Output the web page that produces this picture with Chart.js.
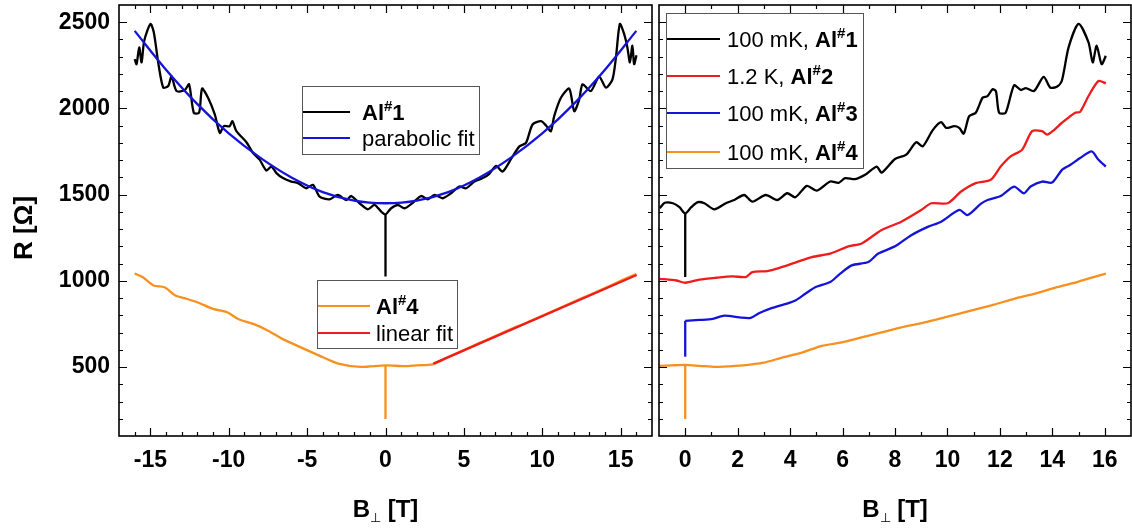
<!DOCTYPE html>
<html>
<head>
<meta charset="utf-8">
<title>R vs B</title>
<script src="https://cdn.jsdelivr.net/npm/chart.js@4.4.1/dist/chart.umd.min.js"></script>
<style>
  body { margin: 0; background: #fff; }
  #wrap { position: relative; width: 1132px; height: 529px; }
  #wrap canvas { position: absolute; left: 0; top: 0; }
</style>
</head>
<body>
<div id="wrap">
  <canvas id="leftChart" width="1132" height="529"></canvas>
  <canvas id="rightChart" width="1132" height="529"></canvas>
</div>
<script>
// ---- left panel: symmetric field sweep ----
var al1B = [-16.0,-15.88,-15.71,-15.56,-15.39,-14.99,-14.78,-14.5,-14.18,-13.86,-13.65,-13.33,-12.8,-12.53,-12.23,-11.89,-11.7,-11.32,-10.89,-10.57,-10.32,-9.94,-9.77,-9.51,-8.87,-8.45,-8.03,-7.6,-7.28,-6.96,-6.54,-6.01,-5.58,-5.05,-4.63,-4.2,-3.57,-3.04,-2.5,-2.18,-1.66,-1.13,-0.7,-0.27,0,0.36,0.79,1.21,1.74,2.27,2.7,3.12,3.65,4.18,4.71,5.14,5.67,6.2,6.62,7.05,7.47,8.01,8.54,8.96,9.38,9.92,10.24,10.55,10.76,11.19,11.72,12.04,12.36,12.57,13.1,13.63,14.06,14.48,14.7,14.95,15.22,15.43,15.59,15.75,15.86,16.01];
var al1R = [2286,2257,2354,2267,2393,2490,2442,2267,2121,2130,2185,2101,2107,2140,1975,1975,2115,2062,1965,1858,1897,1897,1926,1868,1804,1741,1703,1640,1663,1625,1596,1576,1567,1537,1557,1488,1473,1498,1469,1492,1450,1415,1440,1401,1385,1421,1440,1421,1453,1492,1473,1498,1479,1508,1547,1537,1576,1596,1621,1667,1634,1707,1780,1800,1907,1926,1901,1868,1955,2062,2115,1984,2053,2140,2101,2185,2121,2169,2296,2490,2432,2354,2267,2364,2257,2309];

var paraB = [-16,-14,-12,-10,-8,-6,-4,-2,0,2,4,6,8,10,12,14,16];
var paraR = [2450,2225,2025,1855,1715,1600,1515,1465,1450,1465,1515,1600,1715,1855,2025,2225,2450];

var al4B = [-16.0,-15.5,-14.8,-14.1,-13.4,-12.7,-12.0,-11.0,-10.1,-9.4,-8.43,-7.49,-6.55,-5.37,-4.19,-3.01,-1.6,0,1.22,2.0,3.0,4,5,6,7,8,9,10,11,12,13,14,15,16];
var al4R = [1042,1022,973,963,915,896,876,837,818,779,750,711,662,613,565,520,501,510,505,510,516,558,598,640,680,720,757,797,838,878,918,958,1000,1040];

var linB = [3.06, 16.02];
var linR = [520, 1034];

// ---- right panel: positive field, four samples ----
var r1B = [-0.97,-0.78,-0.47,-0.22,0,0.23,0.48,0.73,1.11,1.55,1.87,2.25,2.56,3.07,3.51,3.89,4.2,4.64,5.02,5.53,5.85,6.1,6.48,6.86,7.3,7.49,8.0,8.43,8.81,9.06,9.44,9.76,9.95,10.26,10.45,10.62,10.83,11.08,11.34,11.53,11.72,11.85,11.97,12.22,12.54,12.8,12.99,13.3,13.67,13.92,14.17,14.36,14.62,15.0,15.38,15.54,15.69,15.88,16.04];
var r1R = [1421,1453,1450,1427,1391,1427,1456,1450,1415,1450,1469,1498,1459,1498,1469,1508,1485,1551,1523,1576,1568,1596,1590,1615,1663,1628,1707,1732,1804,1780,1874,1920,1887,1897,1887,1854,1955,1975,2062,2072,2111,2099,1975,1975,2134,2107,2118,2101,2183,2121,2126,2159,2354,2490,2383,2267,2364,2257,2305];

var r2B = [-0.97,-0.34,0.01,0.54,1.17,1.8,2.31,2.56,3.13,3.57,4.2,4.83,5.53,6.22,6.73,7.49,8.24,9.0,9.38,10.01,10.52,11.08,11.65,12.03,12.41,12.85,13.23,13.61,13.8,14.05,14.37,14.87,15.06,15.38,15.76,16.04];
var r2R = [1012,1002,989,1007,1018,1026,1022,1051,1057,1074,1106,1138,1158,1200,1217,1295,1343,1411,1450,1450,1518,1567,1586,1663,1722,1761,1868,1868,1848,1873,1917,1975,1980,2072,2159,2146];

var r3B = [0,0.54,1.05,1.49,2.06,2.5,2.81,3.32,3.83,4.2,4.58,4.96,5.53,5.91,6.35,6.98,7.36,8.0,8.62,9.25,9.76,10.45,10.77,11.27,11.53,12.03,12.54,12.92,13.17,13.61,13.99,14.37,14.69,15.06,15.5,15.76,16.04];
var r3R = [768,773,779,798,788,785,812,843,866,886,925,963,993,1042,1090,1109,1158,1200,1265,1313,1343,1411,1382,1446,1469,1492,1547,1508,1547,1576,1570,1644,1673,1712,1751,1702,1663];

var r4B = [-0.97,-0.5,0,0.54,1.17,1.93,2.56,3.0,3.7,4.45,5.21,5.97,6.73,7.49,8.24,9.13,9.89,10.89,11.78,12.54,13.3,14.18,14.94,15.57,16.04];
var r4R = [507,510,512,507,501,507,516,525,555,584,623,643,672,701,730,759,788,827,862,896,925,963,993,1022,1042];

// narrow drops at zero field (top and bottom of each vertical stroke)
var spikeB = [0, 0];
var al1SpikeR = [1386, 1025];
var al4SpikeR = [510, 199];
var r1SpikeR = [1391, 1022];
var r3StepR = [560, 768];
var r4SpikeR = [512, 198];

// axis tick labels
var leftXTicks = [-15, -10, -5, 0, 5, 10, 15];
var rightXTicks = [0, 2, 4, 6, 8, 10, 12, 14, 16];
var yTicks = [500, 1000, 1500, 2000, 2500];

var BLACK = '#000000', BLUE = '#1414d8', RED = '#ee1c1c', ORANGE = '#f7901e';
var FONT = '"Liberation Sans", Arial, sans-serif';

function pts(xs, ys) {
  return xs.map(function (v, i) { return { x: v, y: ys[i] }; });
}

function line(data, color, tension) {
  return { data: data, borderColor: color, borderWidth: 2.3, pointRadius: 0,
           tension: tension === undefined ? 0.25 : tension, fill: false };
}

// text with bold / superscript / subscript pieces
function richWidth(ctx, parts, size) {
  var w = 0;
  parts.forEach(function (p) {
    var fs = (p.sup || p.sub) ? Math.round(size * (p.sub ? 0.55 : 0.68)) : size;
    ctx.font = (p.bold ? 'bold ' : '') + fs + 'px ' + FONT;
    w += ctx.measureText(p.t).width;
  });
  return w;
}
function drawRich(ctx, x, y, parts, size) {
  ctx.textBaseline = 'alphabetic';
  ctx.textAlign = 'left';
  parts.forEach(function (p) {
    var fs = (p.sup || p.sub) ? Math.round(size * (p.sub ? 0.55 : 0.68)) : size;
    ctx.font = (p.bold ? 'bold ' : '') + fs + 'px ' + FONT;
    var yy = p.sup ? y - size * 0.4 : (p.sub ? y + size * 0.2 : y);
    ctx.fillText(p.t, x, yy);
    x += ctx.measureText(p.t).width;
  });
}
function sample(prefix, n) {
  var parts = [];
  if (prefix) parts.push({ t: prefix });
  parts.push({ t: 'Al', bold: true }, { t: '#', bold: true, sup: true }, { t: n, bold: true });
  return parts;
}

// frame with inward ticks on all four sides
var framePlugin = {
  id: 'frame',
  afterDatasetsDraw: function (chart, args, o) {
    var ctx = chart.ctx, a = chart.chartArea, x = chart.scales.x, y = chart.scales.y;
    ctx.save();
    ctx.strokeStyle = '#000';
    ctx.lineWidth = 1.2;
    ctx.beginPath();
    for (var v = Math.ceil(x.min); v <= Math.floor(x.max); v++) {
      if (v === x.min || v === x.max) continue;
      var px = Math.round(x.getPixelForValue(v)) + 0.5;
      var len = (v % o.xMajor === 0) ? 8 : 4;
      ctx.moveTo(px, a.bottom); ctx.lineTo(px, a.bottom - len);
      ctx.moveTo(px, a.top); ctx.lineTo(px, a.top + len);
    }
    for (var r = 200; r < 2600; r += 100) {
      var py = Math.round(y.getPixelForValue(r)) + 0.5;
      var l2 = (r % 500 === 0) ? 8 : 4;
      ctx.moveTo(a.left, py); ctx.lineTo(a.left + l2, py);
      ctx.moveTo(a.right, py); ctx.lineTo(a.right - l2, py);
    }
    ctx.stroke();
    ctx.lineWidth = 1.6;
    ctx.strokeRect(a.left, a.top, a.right - a.left, a.bottom - a.top);
    ctx.restore();
  }
};

// boxed legends and axis titles
var annotatePlugin = {
  id: 'annotate',
  afterDraw: function (chart, args, o) {
    var ctx = chart.ctx, a = chart.chartArea;
    ctx.save();
    (o.legends || []).forEach(function (lg) {
      ctx.fillStyle = '#fff';
      ctx.fillRect(lg.x, lg.y, lg.w, lg.h);
      ctx.strokeStyle = '#555';
      ctx.lineWidth = 1;
      ctx.strokeRect(lg.x + 0.5, lg.y + 0.5, lg.w, lg.h);
      lg.items.forEach(function (it) {
        ctx.strokeStyle = it.color;
        ctx.lineWidth = 2;
        ctx.beginPath();
        ctx.moveTo(lg.x + 1, it.y); ctx.lineTo(lg.x + lg.lineLen, it.y);
        ctx.stroke();
        ctx.fillStyle = '#000';
        drawRich(ctx, lg.x + lg.textX, it.y + 8, it.parts, 22);
      });
    });
    // x title: B with a small perpendicular sign below, then [T]
    var xt = [{ t: 'B', bold: true }, { t: '\u22A5', sub: true }, { t: ' [T]', bold: true }];
    ctx.fillStyle = '#000';
    var w = richWidth(ctx, xt, 24);
    drawRich(ctx, (a.left + a.right) / 2 - w / 2, 517, xt, 24);
    if (o.yTitle) {
      ctx.translate(32, 228);
      ctx.rotate(-Math.PI / 2);
      ctx.font = 'bold 26px ' + FONT;
      ctx.textAlign = 'center';
      ctx.textBaseline = 'alphabetic';
      ctx.fillText('R [\u03A9]', 0, 0);
    }
    ctx.restore();
  }
};

function plain(v) { return String(v); }

function options(xmin, xmax, xticks, padLeft, padRight, showY, xMajor, extra) {
  var tickFont = { family: FONT, size: 23, weight: 'bold' };
  return {
    responsive: false,
    animation: false,
    layout: { padding: { left: padLeft, right: padRight, top: 5, bottom: 0 } },
    plugins: {
      legend: { display: false },
      tooltip: { enabled: false },
      frame: { xMajor: xMajor },
      annotate: extra
    },
    scales: {
      x: {
        type: 'linear', min: xmin, max: xmax,
        grid: { display: false, drawTicks: false },
        border: { display: false },
        ticks: { font: tickFont, color: '#000', padding: 11, autoSkip: false, maxRotation: 0, callback: plain },
        afterBuildTicks: function (s) { s.ticks = xticks.map(function (v) { return { value: v }; }); },
        afterFit: function (s) { s.height = 93; s.paddingLeft = 0; s.paddingRight = 0; }
      },
      y: {
        type: 'linear', min: 100, max: 2600, display: showY,
        grid: { display: false, drawTicks: false },
        border: { display: false },
        ticks: { font: tickFont, color: '#000', padding: 9, callback: plain },
        afterBuildTicks: function (s) { s.ticks = yTicks.map(function (v) { return { value: v }; }); },
        afterFit: function (s) { if (showY) s.width = 119 - padLeft; s.paddingTop = 0; s.paddingBottom = 0; }
      }
    }
  };
}

new Chart(document.getElementById('leftChart'), {
  type: 'line',
  data: {
    datasets: [
      line(pts(linB, linR), RED, 0),
      line(pts(paraB, paraR), BLUE, 0.4),
      line(pts(al1B, al1R), BLACK),
      line(pts(spikeB, al1SpikeR), BLACK, 0),
      line(pts(al4B, al4R), ORANGE),
      line(pts(spikeB, al4SpikeR), ORANGE, 0)
    ]
  },
  options: options(-17, 17, leftXTicks, 0, 1132 - 652, true, 5, {
    yTitle: true,
    legends: [
      { x: 302, y: 86, w: 177, h: 68, lineLen: 48, textX: 60,
        items: [{ y: 112, color: BLACK, parts: sample('', '1') },
                { y: 138, color: BLUE, parts: [{ t: 'parabolic fit' }] }] },
      { x: 317, y: 280, w: 140, h: 68, lineLen: 53, textX: 59,
        items: [{ y: 306, color: ORANGE, parts: sample('', '4') },
                { y: 333, color: RED, parts: [{ t: 'linear fit' }] }] }
    ]
  }),
  plugins: [framePlugin, annotatePlugin]
});

new Chart(document.getElementById('rightChart'), {
  type: 'line',
  data: {
    datasets: [
      line(pts(r1B, r1R), BLACK),
      line(pts(spikeB, r1SpikeR), BLACK, 0),
      line(pts(r2B, r2R), RED),
      line(pts(r3B, r3R), BLUE),
      line(pts(spikeB, r3StepR), BLUE, 0),
      line(pts(r4B, r4R), ORANGE),
      line(pts(spikeB, r4SpikeR), ORANGE, 0)
    ]
  },
  options: options(-1, 17, rightXTicks, 659, 1, false, 2, {
    legends: [
      { x: 666, y: 13, w: 197, h: 155, lineLen: 54, textX: 61,
        items: [{ y: 39, color: BLACK, parts: sample('100 mK, ', '1') },
                { y: 76, color: RED, parts: sample('1.2 K, ', '2') },
                { y: 113, color: BLUE, parts: sample('100 mK, ', '3') },
                { y: 152, color: ORANGE, parts: sample('100 mK, ', '4') }] }
    ]
  }),
  plugins: [framePlugin, annotatePlugin]
});
</script>
</body>
</html>
